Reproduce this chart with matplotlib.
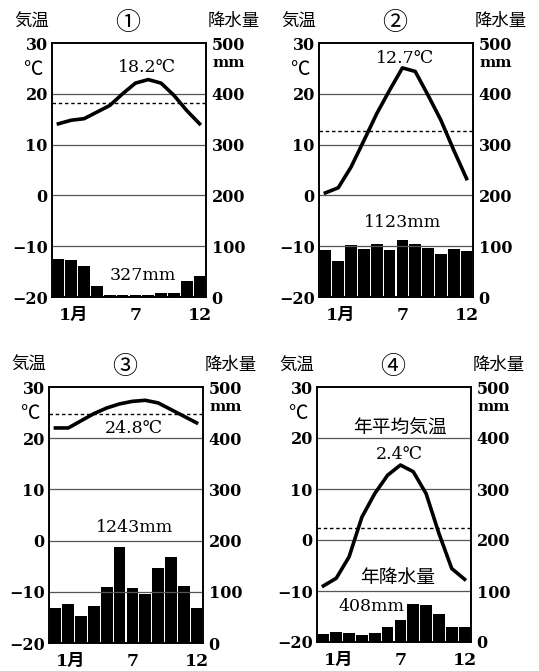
import matplotlib
matplotlib.use('Agg')
import matplotlib.pyplot as plt
import numpy as np

plt.rcParams['font.family'] = ['DejaVu Serif', 'Noto Sans CJK JP']
plt.rcParams['axes.unicode_minus'] = True

months = np.arange(1, 13)
month_ticks = [1, 7, 12]
month_labels = ['1月', '7', '12']
temp_ticks = [-20, -10, 0, 10, 20, 30]
prec_ticks = [0, 100, 200, 300, 400, 500]

temp1 = [14.1, 14.8, 15.1, 16.4, 17.7, 20.0, 22.1, 22.8, 22.1, 19.7, 16.7, 14.1]
prec1 = [75, 73, 61, 21, 3, 4, 3, 4, 8, 8, 31, 42]
temp2 = [0.5, 1.5, 5.6, 10.8, 16.1, 20.7, 25.1, 24.4, 19.7, 14.8, 8.9, 3.3]
prec2 = [92, 71, 102, 94, 105, 93, 112, 105, 97, 84, 94, 91]
temp3 = [22.0, 22.0, 23.4, 24.8, 25.9, 26.7, 27.2, 27.4, 26.9, 25.6, 24.3, 23.0]
prec3 = [69, 77, 52, 73, 110, 187, 108, 95, 146, 168, 111, 69]
temp4 = [-9.0, -7.5, -3.3, 4.5, 9.1, 12.7, 14.7, 13.4, 9.1, 1.3, -5.6, -7.7]
prec4 = [16, 19, 17, 13, 18, 29, 44, 74, 72, 54, 29, 29]

mean_temps = [18.2, 12.7, 24.8, 2.4]
totals = [327, 1123, 1243, 408]
panel_ids = ['①', '②', '③', '④']

temps = [temp1, temp2, temp3, temp4]
precs = [prec1, prec2, prec3, prec4]

fig = plt.figure(figsize=(5.39, 6.71), dpi=100)
W, H = 539, 671
boxes = [(52, 43, 154, 254), (319, 43, 154, 254), (49, 387, 154, 256), (317, 387, 154, 255)]

cjk = ['Noto Sans CJK JP']
serif = ['DejaVu Serif', 'Noto Sans CJK JP']
NUM_W = 'bold'

temp_text_pos = [(7.9, 25.1), (7.2, 27.0), (7.1, 21.8), (6.9, 16.7)]
prec_text_pos = [(7.6, -15.7), (7.0, -5.4), (7.2, 2.6), (4.76, -13.1)]

for i in range(4):
    l, t, w, h = boxes[i]
    ax = fig.add_axes([l / W, (H - t - h) / H, w / W, h / H])
    ax2 = ax.twinx()
    ax.set_zorder(2)
    ax2.set_zorder(1)
    ax.patch.set_visible(False)

    ax2.bar(months, precs[i], width=0.92, color='black', linewidth=0)
    ax2.set_ylim(0, 500)
    ax2.set_yticks(prec_ticks)
    ax2.set_yticklabels([str(v) for v in prec_ticks], fontweight=NUM_W)

    for g in [-10, 0, 10, 20]:
        ax.axhline(g, color='#555555', lw=0.9, zorder=1)
    ax.axhline(mean_temps[i], color='black', lw=1.0, ls=(0, (2.5, 2)), zorder=2)
    ax.plot(months, temps[i], color='black', lw=2.6, solid_joinstyle='round', zorder=3)

    ax.set_xlim(0.5, 12.5)
    ax.set_ylim(-20, 30)
    ax.set_yticks(temp_ticks)
    ax.set_yticklabels([('\u2212' + str(-v)) if v < 0 else str(v) for v in temp_ticks],
                       fontweight=NUM_W)
    ax.set_xticks(month_ticks)
    ax.set_xticklabels(month_labels, fontweight=NUM_W)
    xl = ax.get_xticklabels()
    xl[0].set_horizontalalignment('left')

    ax.tick_params(axis='y', length=0, pad=3, labelsize=11.5)
    ax.tick_params(axis='x', length=0, pad=7, labelsize=12.5)
    ax2.tick_params(axis='y', length=0, pad=4, labelsize=11.5)
    for sp in list(ax.spines.values()) + list(ax2.spines.values()):
        sp.set_linewidth(1.2)
        sp.set_color('black')

    ax.text(-0.13, 1.085, '気温', transform=ax.transAxes, ha='center', va='center',
            fontsize=12.5, family=cjk)
    ax.text(1.18, 1.085, '降水量', transform=ax.transAxes, ha='center', va='center',
            fontsize=12.5, family=cjk)
    ax.text(0.49, 1.08, panel_ids[i], transform=ax.transAxes, ha='center', va='center',
            fontsize=18, family=cjk)
    ax.text(-0.125, 0.895, '℃', transform=ax.transAxes, ha='center', va='center',
            fontsize=14, family=cjk)
    ax.text(1.145, 0.922, 'mm', transform=ax.transAxes, ha='center', va='center',
            fontsize=11, family=serif, fontweight=NUM_W)

    tx, ty = temp_text_pos[i]
    ax.text(tx, ty, f'{mean_temps[i]}℃', ha='center', va='center', fontsize=12.5,
            family=serif, zorder=5)
    px, py = prec_text_pos[i]
    ax.text(px, py, f'{totals[i]}mm', ha='center', va='center', fontsize=12.5,
            family=serif, zorder=5)

    if i == 3:
        ax.text(7.0, 22.2, '年平均気温', ha='center', va='center', fontsize=13.5, family=cjk, zorder=5)
        ax.text(6.75, -7.3, '年降水量', ha='center', va='center', fontsize=13.5, family=cjk, zorder=5)

fig.savefig('out.png', dpi=100, facecolor='white')
